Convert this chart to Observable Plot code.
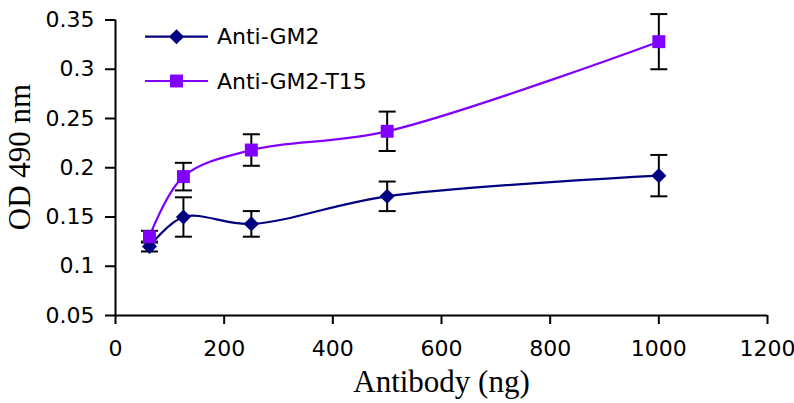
<!DOCTYPE html>
<html><head><meta charset="utf-8">
<script src="https://cdn.jsdelivr.net/npm/d3@7"></script>
<script src="https://cdn.jsdelivr.net/npm/@observablehq/plot@0.6"></script>
<style>
body{margin:0;background:#fff;}
#wrap{position:relative;width:794px;height:403px;}
#wrap svg.legend{position:absolute;left:0;top:0;pointer-events:none;}
#wrap g[aria-label$="tick"] path{stroke-width:2;}
</style></head><body><div id="wrap"></div>
<script>
const doses = [62.5, 125, 250, 500, 1000];
const seriesNames = ["Anti-GM2", "Anti-GM2-T15"];
const gm2Mean = [0.120, 0.150, 0.143, 0.171, 0.192];
const gm2Err  = [0.005, 0.020, 0.013, 0.015, 0.021];
const t15Mean = [0.130, 0.191, 0.218, 0.237, 0.328];
const t15Err  = [0.006, 0.014, 0.016, 0.020, 0.028];
const xTicks = [0, 200, 400, 600, 800, 1000, 1200];
const xTickLabels = ["0", "200", "400", "600", "800", "1000", "1200"];
const yTicks = [0.05, 0.1, 0.15, 0.2, 0.25, 0.3, 0.35];
const yTickLabels = ["0.05", "0.1", "0.15", "0.2", "0.25", "0.3", "0.35"];
const xTitle = "Antibody (ng)";
const yTitle = "OD 490 nm";

const colors = ["#000080", "#8000ff"];
const rows = [];
[[gm2Mean, gm2Err], [t15Mean, t15Err]].forEach(([m, e], s) =>
  doses.forEach((d, i) => rows.push({series: seriesNames[s], dose: d, od: m[i], lo: m[i] - e[i], hi: m[i] + e[i]})));

const cap = {draw(ctx) { ctx.moveTo(-8.5, 0); ctx.lineTo(8.5, 0); }};
const serif = "'Liberation Serif', 'Times New Roman', serif";

const chart = Plot.plot({
  width: 794, height: 403,
  marginLeft: 115, marginRight: 27, marginTop: 19.5, marginBottom: 88,
  style: {fontFamily: "'DejaVu Sans', sans-serif", fontSize: "22px", color: "#000", background: "#fff", overflow: "visible"},
  x: {domain: [0, 1200], ticks: xTicks, tickFormat: d => xTickLabels[xTicks.indexOf(d)], tickSize: 9, tickPadding: 16, label: null},
  y: {domain: [0.05, 0.35], ticks: yTicks, tickFormat: d => yTickLabels[yTicks.indexOf(d)], tickSize: 10, tickPadding: 11, label: null},
  color: {domain: seriesNames, range: colors},
  marks: [
    Plot.ruleX([0], {stroke: "#000", strokeWidth: 2}),
    Plot.ruleY([0.05], {stroke: "#000", strokeWidth: 2}),
    Plot.line(rows, {x: "dose", y: "od", z: "series", stroke: "series", strokeWidth: 2.2, curve: "catmull-rom"}),
    Plot.ruleX(rows, {x: "dose", y1: "lo", y2: "hi", stroke: "#000", strokeWidth: 2}),
    Plot.dot(rows, {x: "dose", y: "lo", symbol: cap, stroke: "#000", strokeWidth: 2}),
    Plot.dot(rows, {x: "dose", y: "hi", symbol: cap, stroke: "#000", strokeWidth: 2}),
    Plot.dot(rows.filter(r => r.series === seriesNames[0]), {x: "dose", y: "od", symbol: "diamond2", r: 6.8, fill: colors[0]}),
    Plot.dot(rows.filter(r => r.series === seriesNames[1]), {x: "dose", y: "od", symbol: "square", r: 7.3, fill: colors[1]}),
    Plot.text([xTitle], {text: d => d, frameAnchor: "bottom", lineAnchor: "middle", textAnchor: "middle", dy: 67, fontFamily: serif, fontSize: 31}),
    Plot.text([yTitle], {text: d => d, frameAnchor: "left", lineAnchor: "middle", textAnchor: "middle", rotate: -90, dx: -95, dy: -10.75, fontFamily: serif, fontSize: 31})
  ]
});
const wrap = document.getElementById("wrap");
wrap.appendChild(chart);

// legend (inside the plot area, top-left)
const leg = d3.select(wrap).append("svg").attr("class", "legend").attr("width", 794).attr("height", 403);
const legSymbols = [d3.symbol(d3.symbolDiamond2, 6.8 * 6.8 * Math.PI), d3.symbol(d3.symbolSquare, 7.3 * 7.3 * Math.PI)];
const legRows = [36.7, 81];
seriesNames.forEach((name, i) => {
  const g = leg.append("g").attr("transform", `translate(0,${legRows[i]})`);
  g.append("line").attr("x1", 145).attr("x2", 208).attr("stroke", colors[i]).attr("stroke-width", 2.2);
  g.append("path").attr("d", legSymbols[i]()).attr("transform", "translate(176.5,0)").attr("fill", colors[i]);
  g.append("text").attr("x", 217).attr("dy", "0.35em").attr("font-family", "'DejaVu Sans', sans-serif")
    .attr("font-size", 22).attr("fill", "#000").text(name);
});
</script></body></html>
